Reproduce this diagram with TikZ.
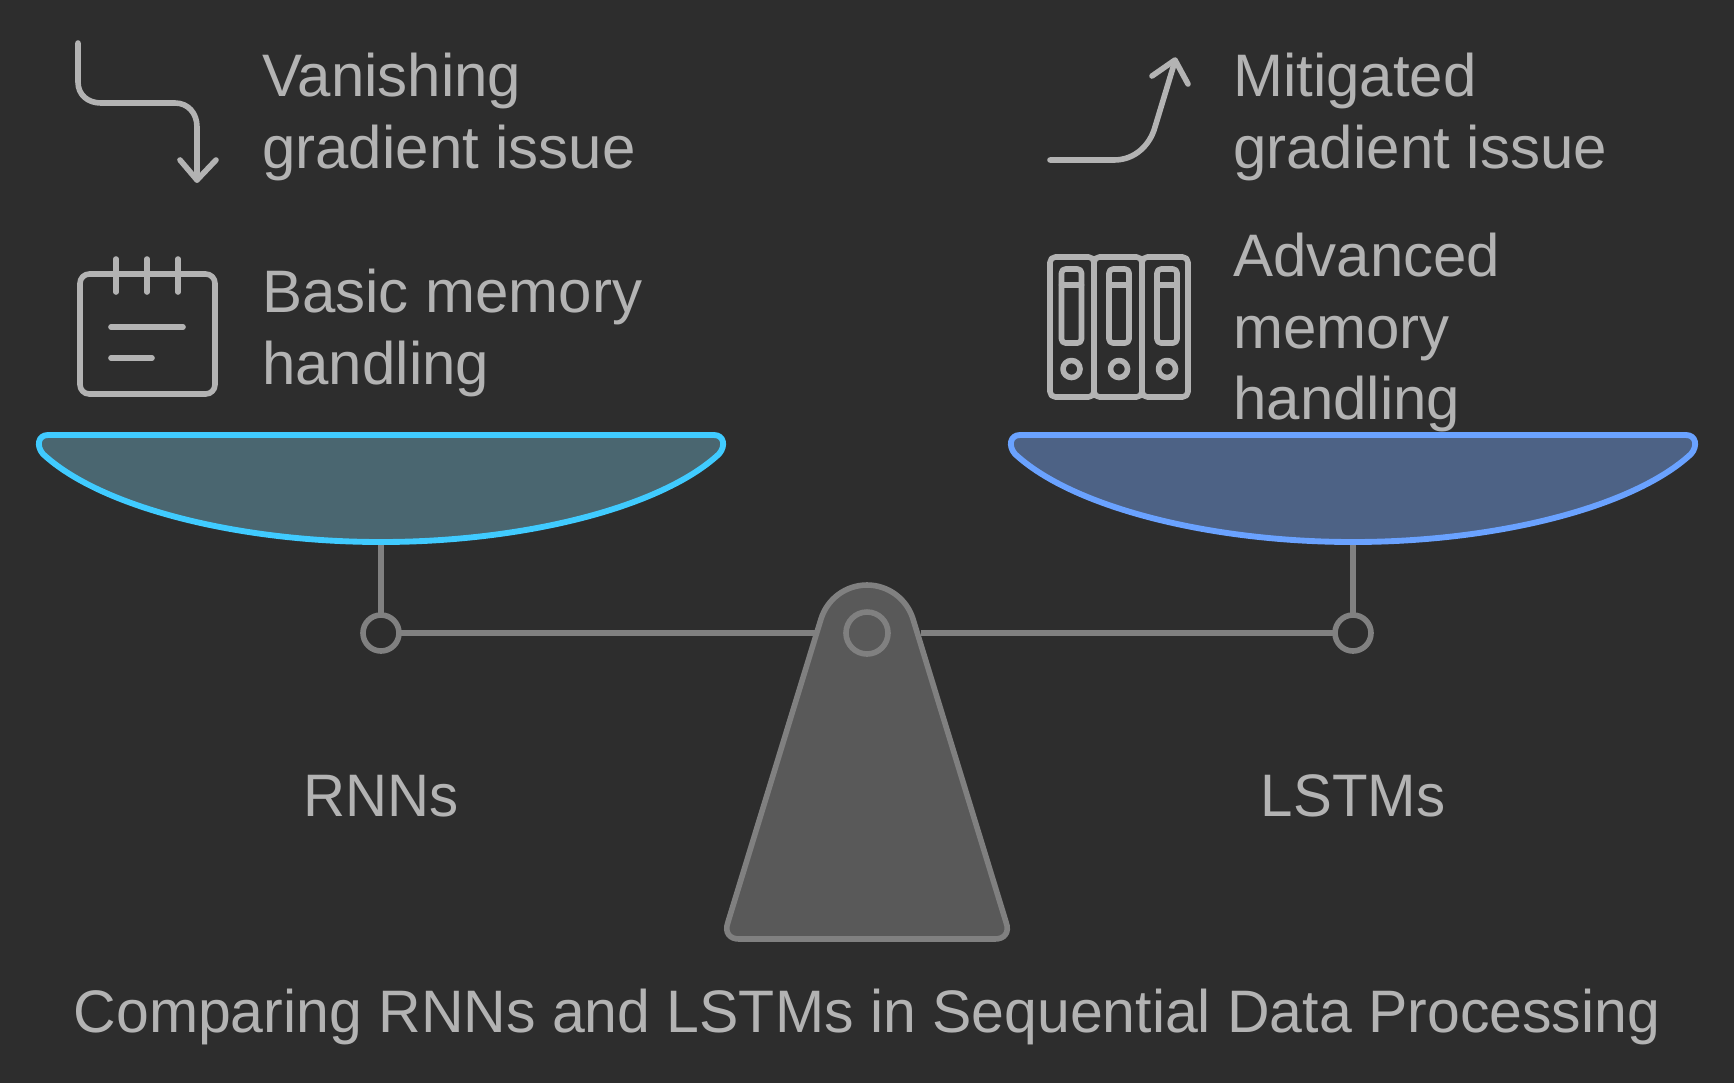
\documentclass[tikz,border=0pt]{standalone}
\usepackage{fontspec}
\setmainfont{Liberation Sans}
\newfontfamily\titlefont[FakeStretch=0.983]{Liberation Sans}
\newfontfamily\capfont[FakeStretch=0.97]{Liberation Sans}
\definecolor{bgc}{HTML}{2D2D2D}
\definecolor{txtc}{HTML}{B3B3B3}
\definecolor{grayc}{HTML}{808080}
\definecolor{fulc}{HTML}{595959}
\definecolor{cyanS}{HTML}{40CBFF}
\definecolor{cyanF}{HTML}{4A6670}
\definecolor{blueS}{HTML}{6AA2FF}
\definecolor{blueF}{HTML}{4D6285}
\tikzset{
 lbl/.style={text=txtc,inner sep=0pt,align=left,anchor=north west,font=\fontsize{45}{53.7}\selectfont},
 captxt/.style={text=txtc,inner sep=0pt,anchor=base,font=\capfont\fontsize{45}{53.7}\selectfont},
 titletxt/.style={text=txtc,inner sep=0pt,anchor=base,font=\titlefont\fontsize{45}{53.7}\selectfont},
 ico/.style={draw=txtc,line width=4.2pt,line cap=round,line join=round},
 gline/.style={draw=grayc,line width=4.2pt},
 pivot/.style={circle,draw=grayc,line width=4.2pt,minimum size=36*0.75pt,inner sep=0pt,outer sep=0pt},
}
\begin{document}
\begin{tikzpicture}[x=0.75pt,y=-0.75pt]
\useasboundingbox (0,0) rectangle (1734,1083);
\fill[bgc] (0,0) rectangle (1734,1083);
% texts
\node[lbl] (t1) at (262,53) {Vanishing\\gradient issue};
\node[lbl] (t2) at (262,269) {Basic memory\\handling};
\node[lbl] (t3) at (1233,53) {Mitigated\\gradient issue};
\node[lbl] (t4) at (1233,233) {Advanced\\memory\\handling};
\node[captxt] (rn) at (381,816) {RNNs};
\node[captxt] (ls) at (1353,816) {LSTMs};
\node[titletxt] (ti) at (867,1032) {Comparing RNNs and LSTMs in Sequential Data Processing};
% icons
\draw[ico] (78,43) -- (78,82) .. controls (78,95) and (88,103) .. (101,103) -- (175,103) .. controls (188,103) and (197,113) .. (197,127) -- (197,180);
\draw[ico] (180,160) -- (197,180) -- (216,160);
\draw[ico,rounded corners=7pt] (80,274) rectangle (215,394);
\draw[ico] (116,259) -- (116,292) (147,259) -- (147,292) (178,259) -- (178,292);
\draw[ico] (111,327) -- (183,327) (111,358) -- (152,358);
\draw[ico] (1050,160) -- (1114,160) .. controls (1135,160) and (1150,145) .. (1155,127) -- (1175,61);
\draw[ico] (1152,76) -- (1175,60) -- (1188,84);
\foreach \a/\b/\c in {1050/1094/1071.5,1094/1142/1119,1142/1188/1167}{
 \draw[ico,rounded corners=4pt] (\a,257) rectangle (\b,397);
 \draw[ico,rounded corners=3pt] (\c-10,269) rectangle (\c+10,343);
 \draw[ico] (\c-10,285) -- (\c+10,285);
 \draw[ico] (\c,369) circle (8.5);
}
% pivots and beam
\node[pivot] (pl) at (381,633) {};
\node[pivot] (pr) at (1353,633) {};
\coordinate (bl) at (815,633);
\coordinate (br) at (921,633);
\draw[gline] (pl) -- (bl);
\draw[gline] (br) -- (pr);
% pans
\coordinate (sl) at (381,542);
\coordinate (sr) at (1353,542);
\draw[gline] (sl) -- (pl);
\draw[gline] (sr) -- (pr);
\foreach \dx/\s/\f in {0/cyanS/cyanF,972/blueS/blueF}{
\begin{scope}[xshift=\dx*0.75pt]
\draw[draw=\s,fill=\f,line width=4.4pt,line join=round]
 (48,435) -- (714,435) .. controls (724,435) and (726,446) .. (719,454)
 .. controls (662,507) and (525,542) .. (381,542)
 .. controls (237,542) and (100,507) .. (43,454)
 .. controls (36,446) and (38,435) .. (48,435) -- cycle;
\end{scope}}
% fulcrum
\draw[draw=grayc,fill=fulc,line width=4.2pt,line join=round]
 (867,585) .. controls (888.1,585) and (906.8,598.8) .. (913,619)
 -- (1006,922) .. controls (1010,933) and (1004,939) .. (995,939)
 -- (739,939) .. controls (730,939) and (724,933) .. (728,922)
 -- (821,619) .. controls (827.2,598.8) and (845.9,585) .. (867,585) -- cycle;
\node[pivot,minimum size=42*0.75pt] (pc) at (867,633) {};
\end{tikzpicture}
\end{document}
